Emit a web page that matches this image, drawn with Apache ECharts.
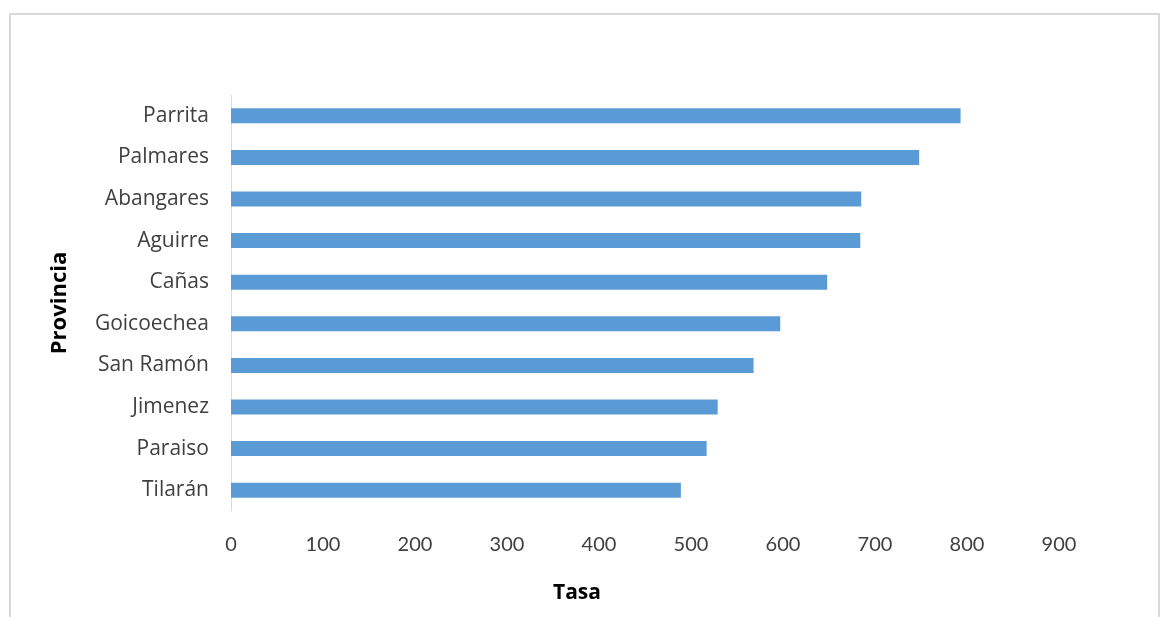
<!DOCTYPE html>
<html>
<head>
<meta charset="utf-8">
<script src="https://cdn.jsdelivr.net/npm/echarts@6/dist/echarts.min.js"></script>
<style>
  html, body { margin: 0; padding: 0; background: #fff; }
  #frame { position: absolute; left: 9px; top: 13px; width: 1151px; height: 620px; border: 2px solid #d9d9d9; box-sizing: border-box; }
  #chart { position: absolute; left: 0; top: 0; width: 1168px; height: 617px; }
</style>
</head>
<body>
<div id="frame"></div>
<div id="chart"></div>
<script>
  // provincias (de abajo hacia arriba) y tasa
  var provincias = ['Tilarán', 'Paraiso', 'Jimenez', 'San Ramón', 'Goicoechea', 'Cañas', 'Aguirre', 'Abangares', 'Palmares', 'Parrita'];
  var tasas = [489, 517, 529, 568, 597, 648, 684, 685, 748, 793];
  var xTicks = [0, 100, 200, 300, 400, 500, 600, 700, 800, 900];

  var myChart = echarts.init(document.getElementById('chart'));
  myChart.setOption({
    animation: false,
    textStyle: { fontFamily: 'Open Sans' },
    grid: { left: 231, right: 109, top: 95, bottom: 106, containLabel: false },
    xAxis: {
      type: 'value',
      min: xTicks[0],
      max: xTicks[xTicks.length - 1],
      interval: 100,
      name: 'Tasa',
      nameLocation: 'middle',
      nameGap: 72,
      nameTextStyle: {
        fontSize: 21, fontWeight: 'bold', color: '#000',
        padding: [0, 136, 0, 0]
      },
      axisLine: { show: false },
      axisTick: { show: false },
      splitLine: { show: false },
      axisLabel: { fontSize: 20, color: '#404040', margin: 24, fontFamily: 'Lato' }
    },
    yAxis: {
      type: 'category',
      data: provincias,
      name: 'Provincia',
      nameLocation: 'middle',
      nameGap: 160,
      nameRotate: 90,
      nameTextStyle: { fontSize: 22, fontWeight: 'bold', color: '#000' },
      axisLine: { show: true, lineStyle: { color: '#d9d9d9', width: 1 } },
      axisTick: { show: false },
      axisLabel: { fontSize: 21, color: '#404040', margin: 22 }
    },
    series: [{
      type: 'bar',
      data: tasas,
      barWidth: 15,
      itemStyle: { color: '#5b9bd5' }
    }]
  });
</script>
</body>
</html>
